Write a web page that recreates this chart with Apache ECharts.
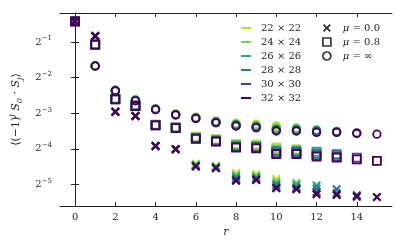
<!DOCTYPE html>
<html><head><meta charset="utf-8">
<script src="https://cdn.jsdelivr.net/npm/echarts@6/dist/echarts.min.js"></script>
<style>html,body{margin:0;padding:0;background:#fff}#c{width:405px;height:252px}</style>
</head><body><div id="c"></div>
<script>
// log2 of <(-1)^j S0·Sj>, indexed by r = 0,1,2,...
const sizeNames = ['22 × 22', '24 × 24', '26 × 26', '28 × 28', '30 × 30', '32 × 32'];
const muNames = ['μ = 0.0', 'μ = 0.8', 'μ = ∞'];
const xTicks = [0, 2, 4, 6, 8, 10, 12, 14];
const yTickExps = [-5, -4, -3, -2, -1];

// mu = 0.0 (crosses)
const mu0_L22 = [-0.415, -0.83, -2.96, -3.08, -3.92, -4.01, -4.42, -4.48, -4.69, -4.72, -4.85];
const mu0_L24 = [-0.415, -0.83, -2.96, -3.08, -3.92, -4.01, -4.44, -4.50, -4.74, -4.76, -4.92, -4.96];
const mu0_L26 = [-0.415, -0.83, -2.96, -3.08, -3.92, -4.01, -4.46, -4.51, -4.78, -4.80, -4.98, -5.02, -5.03];
const mu0_L28 = [-0.415, -0.83, -2.96, -3.08, -3.92, -4.01, -4.48, -4.53, -4.83, -4.83, -5.03, -5.08, -5.12, -5.14];
const mu0_L30 = [-0.415, -0.83, -2.96, -3.08, -3.92, -4.01, -4.49, -4.54, -4.87, -4.86, -5.08, -5.12, -5.22, -5.25, -5.31];
const mu0_L32 = [-0.415, -0.83, -2.96, -3.08, -3.92, -4.01, -4.50, -4.55, -4.90, -4.88, -5.11, -5.14, -5.28, -5.30, -5.35, -5.36];
// mu = 0.8 (squares)
const mu08_L22 = [-0.415, -1.07, -2.58, -2.77, -3.32, -3.39, -3.66, -3.73, -3.86, -3.88, -3.96];
const mu08_L24 = [-0.415, -1.07, -2.59, -2.78, -3.32, -3.40, -3.68, -3.75, -3.89, -3.91, -4.01, -4.02];
const mu08_L26 = [-0.415, -1.07, -2.60, -2.78, -3.33, -3.40, -3.69, -3.76, -3.91, -3.93, -4.05, -4.06, -4.08];
const mu08_L28 = [-0.415, -1.07, -2.60, -2.79, -3.33, -3.41, -3.70, -3.77, -3.93, -3.95, -4.08, -4.09, -4.13, -4.15];
const mu08_L30 = [-0.415, -1.07, -2.61, -2.80, -3.34, -3.41, -3.71, -3.79, -3.95, -3.97, -4.12, -4.12, -4.18, -4.21, -4.25];
const mu08_L32 = [-0.415, -1.07, -2.61, -2.80, -3.34, -3.42, -3.72, -3.80, -3.97, -3.99, -4.15, -4.15, -4.22, -4.25, -4.30, -4.34];
// mu = inf (circles)
const muInf_L22 = [-0.415, -1.67, -2.35, -2.62, -2.87, -3.02, -3.11, -3.22, -3.28, -3.31, -3.35];
const muInf_L24 = [-0.415, -1.67, -2.35, -2.63, -2.88, -3.03, -3.12, -3.23, -3.30, -3.34, -3.40, -3.41];
const muInf_L26 = [-0.415, -1.67, -2.36, -2.63, -2.88, -3.03, -3.13, -3.24, -3.32, -3.36, -3.44, -3.45, -3.47];
const muInf_L28 = [-0.415, -1.67, -2.36, -2.64, -2.89, -3.04, -3.14, -3.25, -3.33, -3.38, -3.46, -3.47, -3.50, -3.51];
const muInf_L30 = [-0.415, -1.67, -2.37, -2.64, -2.89, -3.04, -3.14, -3.26, -3.35, -3.40, -3.48, -3.49, -3.52, -3.53, -3.55];
const muInf_L32 = [-0.415, -1.67, -2.37, -2.65, -2.90, -3.05, -3.15, -3.27, -3.36, -3.41, -3.50, -3.50, -3.54, -3.54, -3.57, -3.59];

const mu0 = [mu0_L22, mu0_L24, mu0_L26, mu0_L28, mu0_L30, mu0_L32];
const mu08 = [mu08_L22, mu08_L24, mu08_L26, mu08_L28, mu08_L30, mu08_L32];
const muInf = [muInf_L22, muInf_L24, muInf_L26, muInf_L28, muInf_L30, muInf_L32];

const colors = ['#bddf26', '#7ad151', '#22a884', '#2a788e', '#414487', '#440154'];
const X_PATH = 'path://M0,1.7L1.7,0L5,3.3L8.3,0L10,1.7L6.7,5L10,8.3L8.3,10L5,6.7L1.7,10L0,8.3L3.3,5Z';
const FONT = 'DejaVu Serif';

const series = [];
for (let i = 0; i < sizeNames.length; i++) {
  const c = colors[i];
  const toPts = arr => arr.map((v, r) => [r, Math.pow(2, v)]);
  series.push({type: 'scatter', name: sizeNames[i], data: toPts(mu0[i]), symbol: X_PATH, symbolSize: 9,
    itemStyle: {color: c, opacity: 1}, z: 2 + i});
  series.push({type: 'scatter', name: sizeNames[i], data: toPts(mu08[i]), symbol: 'rect', symbolSize: 8,
    itemStyle: {color: 'rgba(0,0,0,0)', borderColor: c, borderWidth: 1.8, opacity: 1}, z: 2 + i});
  series.push({type: 'scatter', name: sizeNames[i], data: toPts(muInf[i]), symbol: 'circle', symbolSize: 7.5,
    itemStyle: {color: 'rgba(0,0,0,0)', borderColor: c, borderWidth: 1.8, opacity: 1}, z: 2 + i});
}
series.push({type: 'scatter', name: muNames[0], data: [], symbol: X_PATH, itemStyle: {color: '#000'}});
series.push({type: 'scatter', name: muNames[1], data: [], symbol: 'rect', itemStyle: {color: 'rgba(0,0,0,0)', borderColor: '#000', borderWidth: 1.7}});
series.push({type: 'scatter', name: muNames[2], data: [], symbol: 'circle', itemStyle: {color: 'rgba(0,0,0,0)', borderColor: '#000', borderWidth: 1.7}});

const txt = {fontFamily: FONT, fontSize: 10, color: '#222'};
const yMin = Math.pow(2, -5.61), yMax = Math.pow(2, -0.18);
const axisLineStyle = {show: true, lineStyle: {color: '#222', width: 1}};
const tickIn = {show: true, inside: true, length: 4, lineStyle: {color: '#222', width: 1}};

const yLabelFmt = v => {
  const l = Math.log2(v); const e = Math.round(l);
  if (Math.abs(l - e) > 1e-6 || yTickExps.indexOf(e) < 0) return '';
  return '{b|2}{s|−' + (-e) + '}';
};
const yRich = {
  b: {fontFamily: FONT, fontSize: 10, color: '#222', lineHeight: 14},
  s: {fontFamily: FONT, fontSize: 7, color: '#222', lineHeight: 8, verticalAlign: 'top'}
};

const option = {
  animation: false,
  backgroundColor: '#fff',
  grid: {left: 60, right: 13, top: 13, bottom: 46, outerBoundsMode: 'none', containLabel: false},
  xAxis: [{
    type: 'value', min: -0.75, max: 15.75, position: 'bottom',
    name: 'r', nameLocation: 'middle', nameGap: 21,
    nameTextStyle: {fontFamily: FONT, fontSize: 11, fontStyle: 'italic', color: '#222'},
    axisLine: axisLineStyle, splitLine: {show: false},
    axisTick: Object.assign({customValues: xTicks}, tickIn),
    axisLabel: Object.assign({customValues: xTicks, margin: 6}, txt)
  }, {
    type: 'value', min: -0.75, max: 15.75, position: 'top',
    axisLine: axisLineStyle, splitLine: {show: false},
    axisTick: Object.assign({customValues: xTicks}, tickIn),
    axisLabel: {show: false, customValues: xTicks}
  }],
  yAxis: [{
    type: 'log', logBase: 2, min: yMin, max: yMax, position: 'left',
    name: '{n|⟨(−1)}{sup|j}{ni| S}{sub|0}{n| · }{ni|S}{sub|j}{n|⟩}',
    nameLocation: 'middle', nameGap: 30, nameRotate: 90,
    nameTextStyle: {
      rich: {
        n: {fontFamily: FONT, fontSize: 11, color: '#222', lineHeight: 16},
        ni: {fontFamily: FONT, fontSize: 11, fontStyle: 'italic', color: '#222', lineHeight: 16},
        sup: {fontFamily: FONT, fontSize: 8, fontStyle: 'italic', color: '#222', lineHeight: 9, verticalAlign: 'top'},
        sub: {fontFamily: FONT, fontSize: 8, fontStyle: 'italic', color: '#222', lineHeight: 9, verticalAlign: 'bottom'}
      }
    },
    axisLine: axisLineStyle, splitLine: {show: false}, minorTick: {show: false},
    axisTick: tickIn,
    axisLabel: {margin: 8, formatter: yLabelFmt, rich: yRich, showMinLabel: false, showMaxLabel: false}
  }, {
    type: 'log', logBase: 2, min: yMin, max: yMax, position: 'right',
    axisLine: axisLineStyle, splitLine: {show: false},
    axisTick: tickIn, axisLabel: {show: false}
  }],
  legend: [{
    orient: 'vertical', left: 236, top: 17, itemWidth: 10, itemHeight: 2, itemGap: 2,
    selectedMode: false,
    data: sizeNames.map((n, i) => ({name: n, icon: 'rect', itemStyle: {color: colors[i], borderWidth: 0, opacity: 1}})),
    textStyle: {fontFamily: FONT, fontSize: 10, color: '#222', lineHeight: 12, padding: [0, 0, 0, 5]}
  }, {
    orient: 'vertical', left: 317, top: 17, itemWidth: 8, itemHeight: 8, itemGap: 2,
    selectedMode: false,
    data: [
      {name: muNames[0], icon: X_PATH, itemStyle: {color: '#000', borderWidth: 0}},
      {name: muNames[1], icon: 'rect', itemStyle: {color: 'rgba(0,0,0,0)', borderColor: '#000', borderWidth: 1.7}},
      {name: muNames[2], icon: 'circle', itemStyle: {color: 'rgba(0,0,0,0)', borderColor: '#000', borderWidth: 1.7}}
    ],
    formatter: n => n.replace('μ', '{i|μ}'),
    textStyle: {fontFamily: FONT, fontSize: 10, color: '#222', lineHeight: 12, padding: [0, 0, 0, 7],
      rich: {i: {fontFamily: FONT, fontSize: 10, fontStyle: 'italic', color: '#222', lineHeight: 12}}}
  }],
  series: series
};
const chart = echarts.init(document.getElementById('c'), null, {renderer: 'canvas'});
chart.setOption(option);
</script>
</body></html>
